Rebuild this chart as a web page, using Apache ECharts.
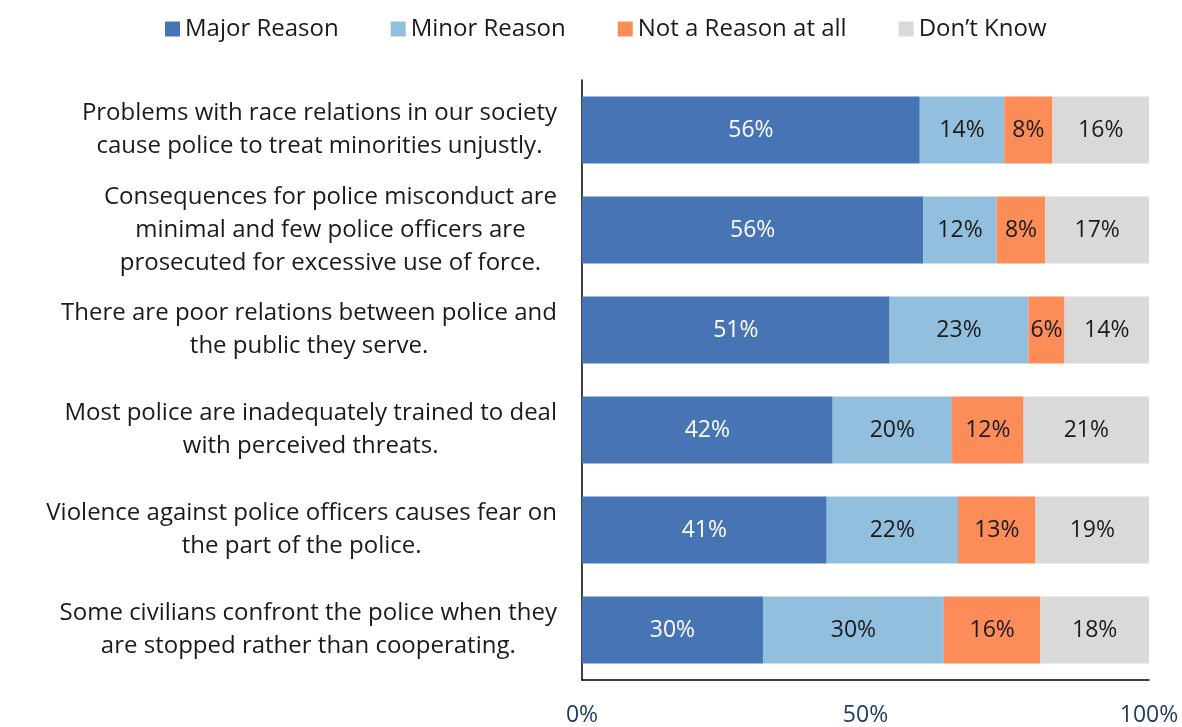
<!DOCTYPE html>
<html>
<head>
<meta charset="utf-8">
<script src="https://cdn.jsdelivr.net/npm/echarts@6/dist/echarts.min.js"></script>
<style>
  html, body { margin: 0; padding: 0; background: #fff; }
  #chart { width: 1182px; height: 727px; }
</style>
</head>
<body>
<div id="chart"></div>
<script>
const myChart = echarts.init(document.getElementById('chart'));

// statements, top to bottom
const categories = [
    'Problems with race relations in our society\ncause police to treat minorities unjustly.',
    'Consequences for police misconduct are\nminimal and few police officers are\nprosecuted for excessive use of force.',
    'There are poor relations between police and\nthe public they serve.',
    'Most police are inadequately trained to deal\nwith perceived threats.',
    'Violence against police officers causes fear on\nthe part of the police.',
    'Some civilians confront the police when they\nare stopped rather than cooperating.'
];

const seriesNames = ['Major Reason', 'Minor Reason', 'Not a Reason at all', 'Don\u2019t Know'];
const majorReason = [56, 56, 51, 42, 41, 30];
const minorReason = [14, 12, 23, 20, 22, 30];
const notAReason  = [8, 8, 6, 12, 13, 16];
const dontKnow    = [16, 17, 14, 21, 19, 18];
const xTicks = [0, 50, 100];

const colors = ['#4674b5', '#92bfdd', '#fc8d58', '#d9d9d9'];
const labelColors = ['#ffffff', '#1a1a1a', '#1a1a1a', '#1a1a1a'];
const FONT = '"Open Sans", Roboto, sans-serif';

const raw = [majorReason, minorReason, notAReason, dontKnow];
// bars are drawn as share of the row total (100% stacked)
const totals = categories.map((c, i) => raw.reduce((s, arr) => s + arr[i], 0));

const series = raw.map((arr, k) => ({
    name: seriesNames[k],
    type: 'bar',
    stack: 'all',
    barWidth: 67,
    data: arr.map((v, i) => ({ value: v / totals[i] * 100, raw: v })),
    itemStyle: { color: colors[k] },
    label: {
        show: true,
        position: 'inside',
        color: labelColors[k],
        fontFamily: FONT,
        fontSize: 23,
        formatter: p => p.data.raw + '%'
    },
    emphasis: { disabled: true }
}));

myChart.setOption({
    animation: false,
    textStyle: { fontFamily: FONT },
    legend: {
        top: 12,
        left: 160,
        itemWidth: 15,
        itemHeight: 15,
        itemGap: 52,
        icon: 'rect',
        textStyle: { fontSize: 24, color: '#1a1a1a', fontFamily: FONT }
    },
    grid: { left: 582, right: 33, top: 80, bottom: 45 },
    xAxis: {
        type: 'value',
        min: 0,
        max: 100,
        interval: 50,
        axisLine: { show: true, lineStyle: { color: '#000', width: 1.5 } },
        axisTick: { show: false },
        splitLine: { show: false },
        axisLabel: {
            margin: 24,
            fontSize: 23,
            color: '#1f3a5f',
            fontFamily: FONT,
            formatter: v => xTicks.includes(v) ? v + '%' : ''
        }
    },
    yAxis: {
        type: 'category',
        inverse: true,
        data: categories,
        axisLine: { show: true, lineStyle: { color: '#000', width: 1.5 } },
        axisTick: { show: false },
        axisLabel: {
            margin: 25,
            formatter: v => v.split('\n').map(l => '{c|' + l + '}').join('\n'),
            rich: {
                c: { align: 'center', fontSize: 24, lineHeight: 33, color: '#1a1a1a', fontFamily: FONT }
            }
        }
    },
    series: series
});
</script>
</body>
</html>
